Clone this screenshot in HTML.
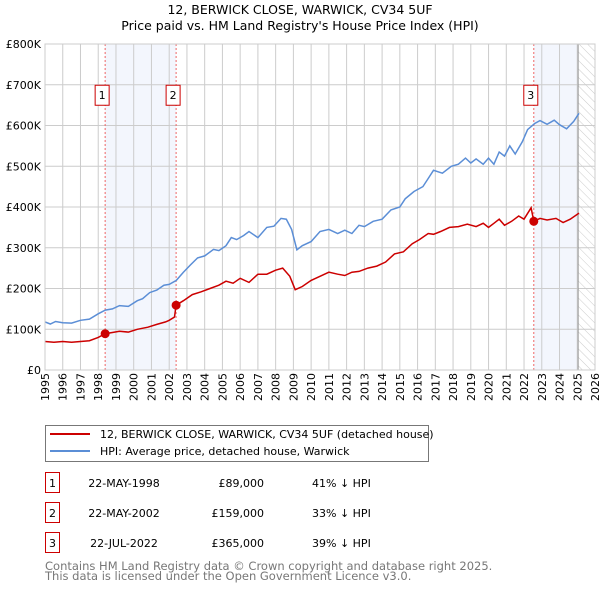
<!DOCTYPE html>
<html><head><meta charset="utf-8"><style>
body{margin:0;background:#fff;}
svg{display:block;font-family:"DejaVu Sans","Liberation Sans",sans-serif;}
</style></head><body>
<svg id="c" width="600" height="590" viewBox="0 0 600 590">
<defs><pattern id="hatch" width="6" height="6" patternUnits="userSpaceOnUse" patternTransform="rotate(-45)"><line x1="0" y1="0" x2="0" y2="6" stroke="#ccc" stroke-width="1"/></pattern></defs>
<text x="300" y="14" text-anchor="middle" font-size="12.5">12, BERWICK CLOSE, WARWICK, CV34 5UF</text>
<text x="300" y="30" text-anchor="middle" font-size="12.5">Price paid vs. HM Land Registry's House Price Index (HPI)</text>
<g id="plot"></g>
<g>
<rect x="45.5" y="425.5" width="383" height="36" fill="#fff" stroke="#777"/>
<line x1="50" y1="434" x2="90" y2="434" stroke="#cc0000" stroke-width="2"/>
<text x="100" y="438" font-size="11">12, BERWICK CLOSE, WARWICK, CV34 5UF (detached house)</text>
<line x1="50" y1="451" x2="90" y2="451" stroke="#5b8ed6" stroke-width="2"/>
<text x="100" y="455" font-size="11">HPI: Average price, detached house, Warwick</text>
</g>
<g id="table" font-size="11"></g>
<text x="45" y="570" font-size="11.5" fill="#777">Contains HM Land Registry data © Crown copyright and database right 2025.</text>
<text x="45" y="580" font-size="11.5" fill="#777">This data is licensed under the Open Government Licence v3.0.</text>
</svg>
<script>
const hpiYears=[1995.0,1995.3,1995.6,1996.0,1996.5,1997.0,1997.5,1998.0,1998.4,1998.8,1999.2,1999.7,2000.2,2000.5,2000.9,2001.3,2001.7,2002.0,2002.4,2002.8,2003.2,2003.6,2004.0,2004.5,2004.8,2005.2,2005.5,2005.8,2006.2,2006.5,2007.0,2007.5,2007.9,2008.3,2008.6,2008.9,2009.2,2009.5,2010.0,2010.5,2011.0,2011.5,2011.9,2012.3,2012.7,2013.0,2013.5,2014.0,2014.5,2015.0,2015.3,2015.8,2016.3,2016.6,2016.9,2017.4,2017.9,2018.3,2018.7,2019.0,2019.3,2019.7,2020.0,2020.3,2020.6,2020.9,2021.2,2021.5,2021.9,2022.2,2022.6,2022.9,2023.3,2023.7,2024.0,2024.4,2024.8,2025.1];
const hpiValues=[118,113,119,116,115,122,125,138,147,150,158,156,170,175,190,196,208,210,220,240,258,275,280,296,293,305,325,320,330,340,325,350,353,372,370,345,295,305,315,340,345,335,343,335,355,352,365,370,393,400,420,438,450,470,490,483,500,505,520,508,518,505,520,505,535,525,550,530,560,590,605,612,603,613,602,592,610,630];
const propYears=[1995.0,1995.5,1996.0,1996.5,1997.0,1997.5,1998.0,1998.39,1998.8,1999.2,1999.7,2000.2,2000.8,2001.3,2001.8,2002.0,2002.3,2002.39,2002.8,2003.3,2003.8,2004.3,2004.8,2005.2,2005.6,2006.0,2006.5,2007.0,2007.5,2008.0,2008.4,2008.8,2009.1,2009.5,2010.0,2010.5,2011.0,2011.5,2011.9,2012.3,2012.7,2013.2,2013.7,2014.2,2014.7,2015.2,2015.7,2016.1,2016.6,2016.9,2017.3,2017.8,2018.3,2018.8,2019.3,2019.7,2020.0,2020.3,2020.6,2020.9,2021.3,2021.7,2022.0,2022.4,2022.55,2022.9,2023.3,2023.8,2024.2,2024.6,2025.1];
const propValues=[70,68,70,68,70,72,80,89,92,95,93,100,105,112,118,122,130,159,170,185,192,200,208,218,213,225,215,235,235,245,250,230,197,205,220,230,240,235,232,240,242,250,255,265,285,290,310,320,335,333,340,350,352,358,352,360,350,360,370,355,365,378,370,398,365,372,368,372,362,370,385];
const saleYears=[1998.39,2002.39,2022.55];
const saleValues=[89,159,365];
const saleLabels=["1","2","3"];
const saleDates=["22-MAY-1998","22-MAY-2002","22-JUL-2022"];
const salePrices=["£89,000","£159,000","£365,000"];
const saleDiffs=["41% ↓ HPI","33% ↓ HPI","39% ↓ HPI"];
const yTicks=[0,100,200,300,400,500,600,700,800];
const yTickLabels=["£0","£100K","£200K","£300K","£400K","£500K","£600K","£700K","£800K"];
const xTicks=[1995,1996,1997,1998,1999,2000,2001,2002,2003,2004,2005,2006,2007,2008,2009,2010,2011,2012,2013,2014,2015,2016,2017,2018,2019,2020,2021,2022,2023,2024,2025,2026];
const dataEnd=2025.05;

const NS="http://www.w3.org/2000/svg";
const L=45,R=595,T=44,B=370;
const x=v=>L+(v-1995)/(2026-1995)*(R-L);
const y=v=>B-v/800*(B-T);
const g=document.getElementById('plot');
function mk(tag,attrs,parent){const e=document.createElementNS(NS,tag);for(const k in attrs)e.setAttribute(k,attrs[k]);(parent||g).appendChild(e);return e;}

let e;
e=mk('rect',{x:x(saleYears[0]),y:T,width:x(saleYears[1])-x(saleYears[0]),height:B-T,fill:'#f3f6fd'});


e=mk('rect',{x:x(saleYears[2]),y:T,width:x(dataEnd)-x(saleYears[2]),height:B-T,fill:'#f3f6fd'});


e=mk('rect',{x:x(2025),y:T,width:R-x(2025),height:B-T,fill:'url(#hatch)'});


xTicks.forEach(t=>{
  e=mk('line',{x1:x(t),x2:x(t),y1:T,y2:B,stroke:'#ccc','stroke-width':1});
  
  
  const tx=x(t)+4, ty=B+3;
  e=mk('text',{x:tx,y:ty,'text-anchor':'end','font-size':11,transform:'rotate(-90 '+tx+' '+ty+')'});
  e.textContent=t;
  
  
});
yTicks.forEach((t,i)=>{
  e=mk('line',{x1:L,x2:R,y1:y(t),y2:y(t),stroke:'#ccc','stroke-width':1});
  
  
  e=mk('text',{x:L-4,y:y(t)+4,'text-anchor':'end','font-size':11});
  e.textContent=yTickLabels[i];
  
  
});
e=mk('line',{x1:x(dataEnd),x2:x(dataEnd),y1:T,y2:B,stroke:'#999','stroke-width':1});


saleYears.forEach((s,i)=>{
  e=mk('line',{x1:x(s),x2:x(s),y1:T,y2:B,stroke:'#e66','stroke-width':1,'stroke-dasharray':'2,2'});
  
  
});
function pts(xs,vs){return xs.map((v,i)=>x(v).toFixed(1)+','+y(vs[i]).toFixed(1)).join(' ');}
e=mk('polyline',{points:pts(hpiYears,hpiValues),fill:'none',stroke:'#5b8ed6','stroke-width':1.5});


e=mk('polyline',{points:pts(propYears,propValues),fill:'none',stroke:'#cc0000','stroke-width':1.5});


saleYears.forEach((s,i)=>{
  e=mk('circle',{cx:x(s),cy:y(saleValues[i]),r:4.5,fill:'#cc0000'});
  
  
  e=mk('rect',{x:x(s)-10,y:y(700)+0.5,width:14,height:20,fill:'#fff',stroke:'#cc0000'});
  
  
  e=mk('text',{x:x(s)-3,y:y(700)+14,'text-anchor':'middle','font-size':11});
  e.textContent=saleLabels[i];
  
  
});
e=mk('rect',{x:L,y:T,width:R-L,height:B-T,fill:'none',stroke:'#ccc'});



const tb=document.getElementById('table');
saleLabels.forEach((l,i)=>{
  const cy=483+i*30;
  e=mk('rect',{x:45.5,y:cy-10.5,width:14,height:20,fill:'#fff',stroke:'#cc0000'},tb);
  
  
  e=mk('text',{x:52.5,y:cy+4,'text-anchor':'middle'},tb);e.textContent=l;
  
  
  e=mk('text',{x:124,y:cy+4,'text-anchor':'middle'},tb);e.textContent=saleDates[i];
  
  
  e=mk('text',{x:264,y:cy+4,'text-anchor':'end'},tb);e.textContent=salePrices[i];
  
  
  e=mk('text',{x:312,y:cy+4},tb);e.textContent=saleDiffs[i];
  
  
});
</script>
</body></html>
